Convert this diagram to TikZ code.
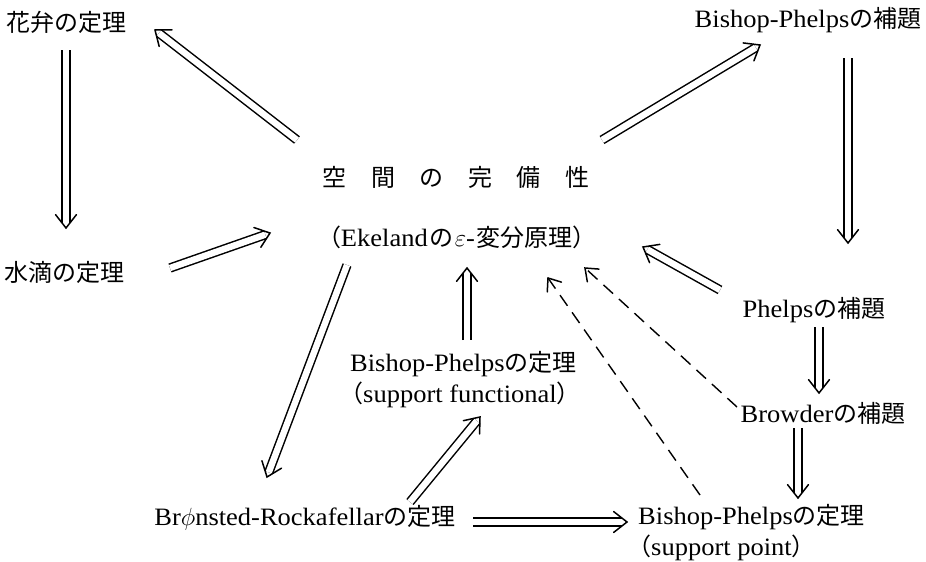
\documentclass[tikz,border=0pt]{standalone}
\usepackage{fontspec}
\setmainfont{Liberation Serif}[FakeStretch=1.06]
\newfontfamily\jp{Noto Sans CJK JP}
\usetikzlibrary{calc}
\newcommand\jtxt[1]{{\fontsize{24}{31}\jp #1}}
\tikzset{
  lbl/.style={inner sep=0pt, font=\fontsize{25}{31}\selectfont},
  dbl/.style={double=white, double distance=6.4pt, line width=1.5pt, shorten >=5pt},
  chev/.style={line width=1.5pt, line cap=round, line join=miter},
  dsh/.style={line width=1.4pt, dash pattern=on 13pt off 8pt},
}
% double implication arrow and dashed arrow, both with an open chevron tip
\newcommand\dimp[2]{%
  \draw[dbl] (#1) -- (#2);
  \draw[chev] ($(#2)!17pt!38:(#1)$) -- (#2) -- ($(#2)!17pt!-38:(#1)$);}
\newcommand\dashimp[2]{%
  \draw[dsh] (#1) -- (#2);
  \draw[chev] ($(#2)!14pt!38:(#1)$) -- (#2) -- ($(#2)!14pt!-38:(#1)$);}
\begin{document}
\begin{tikzpicture}[x=1pt,y=-1pt]
\useasboundingbox (0,0) rectangle (926,562);
\fill[white] (0,0) rectangle (926,562);
% texts
\node[lbl] (hana) at (66,22) {\jtxt{花弁の定理}};
\node[lbl] (mizu) at (65,272) {\jtxt{水滴の定理}};
\node[lbl] (core) at (456,177) {\jtxt{空\hspace{24.5pt}間\hspace{24.5pt}の\hspace{24.5pt}完\hspace{24.5pt}備\hspace{24.5pt}性}};
\node[lbl] (eke) at (457,237) {\jtxt{（}\hspace{-1pt}Ekeland\hspace{2pt}\jtxt{の}\hspace{1pt}$\varepsilon$-\hspace{1pt}\jtxt{変分原理）}};
\node[lbl] (bpl) at (808,20) {Bishop-Phelps\jtxt{の補題}};
\node[lbl] (phl) at (814,310) {Phelps\jtxt{の補題}};
\node[lbl] (brow) at (823,413) {Browder\jtxt{の補題}};
\node[lbl, align=left, anchor=west] (bpf) at (350,380) {Bishop-Phelps\jtxt{の定理}\\\hspace{-11pt}\jtxt{（}support functional\jtxt{）}};
\node[lbl] (bron) at (305,518) {Br$\phi$nsted-Rockafellar\jtxt{の定理}};
\node[lbl, align=left, anchor=west] (bpp) at (638,533) {Bishop-Phelps\jtxt{の定理}\\\hspace{-11pt}\jtxt{（}support point\jtxt{）}};
% arrow end points
\coordinate (a1s) at (297,140); \coordinate (a1t) at (155,30);
\coordinate (a2s) at (66,50);   \coordinate (a2t) at (66,228);
\coordinate (a3s) at (170,268); \coordinate (a3t) at (270,233);
\coordinate (a4s) at (602,140); \coordinate (a4t) at (760,45);
\coordinate (a5s) at (848,58);  \coordinate (a5t) at (848,243);
\coordinate (a6s) at (720,290); \coordinate (a6t) at (643,247);
\coordinate (a7s) at (819,327); \coordinate (a7t) at (819,393);
\coordinate (a8s) at (798,428); \coordinate (a8t) at (798,498);
\coordinate (a9s) at (737,407); \coordinate (a9t) at (585,268);
\coordinate (a10s) at (700,495); \coordinate (a10t) at (548,278);
\coordinate (a11s) at (467,340); \coordinate (a11t) at (467,268);
\coordinate (a12s) at (347,265); \coordinate (a12t) at (267,477);
\coordinate (a13s) at (410,502); \coordinate (a13t) at (480,417);
\coordinate (a14s) at (473,522); \coordinate (a14t) at (627,522);
\dimp{a1s}{a1t}
\dimp{a2s}{a2t}
\dimp{a3s}{a3t}
\dimp{a4s}{a4t}
\dimp{a5s}{a5t}
\dimp{a6s}{a6t}
\dimp{a7s}{a7t}
\dimp{a8s}{a8t}
\dashimp{a9s}{a9t}
\dashimp{a10s}{a10t}
\dimp{a11s}{a11t}
\dimp{a12s}{a12t}
\dimp{a13s}{a13t}
\dimp{a14s}{a14t}
\end{tikzpicture}
\end{document}
